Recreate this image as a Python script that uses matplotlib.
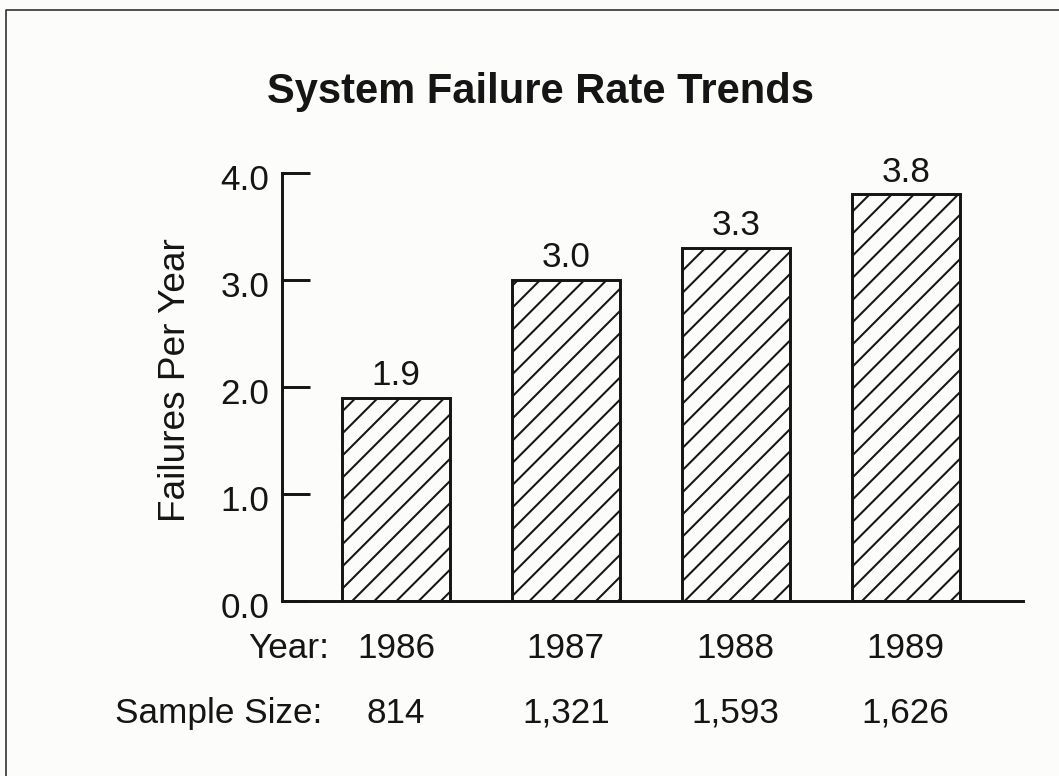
import numpy as np
import matplotlib
matplotlib.use("Agg")
from matplotlib import pyplot as plt
from matplotlib.lines import Line2D
from matplotlib.transforms import blended_transform_factory, ScaledTranslation

years = ["1986", "1987", "1988", "1989"]
rates = [1.9, 3.0, 3.3, 3.8]  # failures per year
sample_sizes = ["814", "1,321", "1,593", "1,626"]
yticks = [0.0, 1.0, 2.0, 3.0, 4.0]

plt.rcParams['font.family'] = ['Liberation Sans', 'DejaVu Sans']
plt.rcParams['hatch.linewidth'] = 1.1
plt.rcParams['hatch.color'] = '#111111'

ink = '#151515'
bg = '#fcfcfa'

DPI = 133  # one inch = 133 px, sets the hatch spacing
fig = plt.figure(figsize=(1059 / DPI, 776 / DPI), dpi=DPI, facecolor=bg)
ax = fig.add_axes([0.2663, 0.2255, 0.6997, 0.5515], facecolor=bg)

x = np.arange(len(years))
bars = ax.bar(x, rates, width=0.635, color=bg, edgecolor=ink,
              linewidth=1.6, hatch='//')
ax.bar_label(bars, labels=['%.1f' % r for r in rates], padding=3,
             fontsize=19, color=ink, clip_on=False)

ax.set_xlim(-0.67, 3.69)
ax.set_ylim(0, 4.0)

# spines
for s in ['top', 'right']:
    ax.spines[s].set_visible(False)
for s in ['left', 'bottom']:
    ax.spines[s].set_linewidth(1.6)
    ax.spines[s].set_color(ink)

ax.set_yticks(yticks)
ax.set_yticklabels(['%.1f' % t for t in yticks])
ax.tick_params(axis='y', direction='in', length=15, width=1.6, pad=7,
               labelsize=19, colors=ink)
# tick labels sit a little below their ticks in the original
shift = ScaledTranslation(0, -4 / DPI, fig.dpi_scale_trans)
for lab in ax.get_yticklabels():
    lab.set_transform(lab.get_transform() + shift)

ax.set_xticks([])

trans = blended_transform_factory(ax.transData, ax.transAxes)
y_year = -0.112
y_size = -0.262
ax.text(-0.39, y_year, "Year:", transform=trans, ha='right', va='center',
        fontsize=19, color=ink)
ax.text(-0.43, y_size, "Sample Size:", transform=trans, ha='right',
        va='center', fontsize=19, color=ink)
for xi, yr, n in zip(x, years, sample_sizes):
    ax.text(xi, y_year, yr, transform=trans, ha='center', va='center',
            fontsize=19, color=ink)
    ax.text(xi, y_size, n, transform=trans, ha='center', va='center',
            fontsize=19, color=ink)

ax.set_ylabel("Failures Per Year", fontsize=20, color=ink)
ax.yaxis.set_label_coords(-0.12, 0.516)

fig.text(0.51, 0.881, "System Failure Rate Trends", ha='center',
         va='center', fontsize=22.5, fontweight='bold', color=ink)

# page frame (left and top edges)
fig.add_artist(Line2D([0.006, 0.006, 1.0], [0.0, 0.987, 0.987],
                      transform=fig.transFigure, color='#333333', lw=0.9))

fig.savefig("out.png", dpi=DPI, facecolor=bg)
